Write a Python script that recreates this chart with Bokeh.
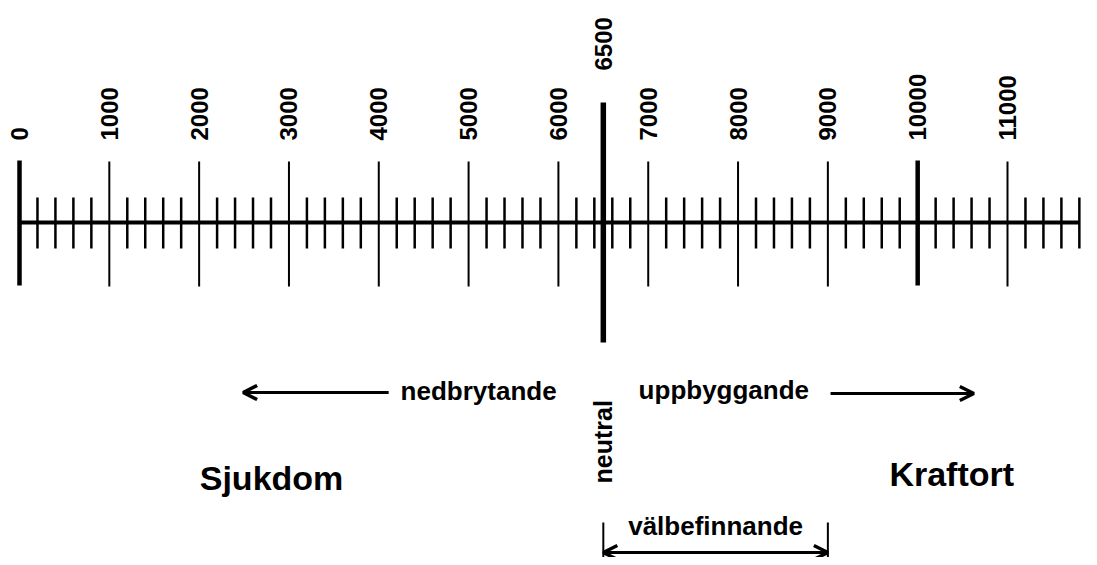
import math
from bokeh.plotting import figure
from bokeh.models import Range1d, Arrow, OpenHead, ColumnDataSource
from bokeh.core.properties import value
from bokeh.embed import file_html
from bokeh.resources import INLINE

# ---- data ----
major_ticks = [0, 1000, 2000, 3000, 4000, 5000, 6000, 7000, 8000, 9000, 10000, 11000]
major_labels = ["0", "1000", "2000", "3000", "4000", "5000", "6000", "7000",
                "8000", "9000", "10000", "11000"]
bold_ticks = [0, 10000]
neutral_value = 6500
neutral_label = "6500"
scale_end = 11800
minor_ticks = [v for v in range(200, scale_end + 1, 200) if v % 1000 != 0]
wellbeing_range = [6500, 9000]
left_arrow = [4110, 2490]     # nedbrytande arrow (start, end)
right_arrow = [9030, 10625]   # uppbyggande arrow (start, end)

FONT = value("Liberation Sans")
W, H = 1089, 557
PX_PER_UNIT = 988 / 11000.0
X0 = (0 - 19) / PX_PER_UNIT
X1 = X0 + W / PX_PER_UNIT

p = figure(width=W, height=H, output_backend="svg", toolbar_location=None,
           x_range=Range1d(X0, X1), y_range=Range1d(H, 0),
           min_border=0, outline_line_color=None)
p.axis.visible = False
p.grid.visible = False
p.background_fill_color = "white"

# main axis line
p.segment(x0=[0], y0=[222], x1=[scale_end], y1=[222], line_width=4,
          line_color="black", line_cap="butt")

# minor ticks
p.segment(x0=minor_ticks, y0=[197] * len(minor_ticks), x1=minor_ticks,
          y1=[248] * len(minor_ticks), line_width=2.5, line_color="black")

# major ticks
thin = [v for v in major_ticks if v not in bold_ticks]
p.segment(x0=thin, y0=[161] * len(thin), x1=thin, y1=[286] * len(thin),
          line_width=2, line_color="black")
p.segment(x0=bold_ticks, y0=[160] * len(bold_ticks), x1=bold_ticks,
          y1=[285] * len(bold_ticks), line_width=4.5, line_color="black")

# neutral tick
p.segment(x0=[neutral_value], y0=[102], x1=[neutral_value], y1=[342],
          line_width=5.5, line_color="black")

# tick labels
src = ColumnDataSource(dict(x=major_ticks, y=[140] * len(major_ticks), t=major_labels))
p.text(x="x", y="y", text="t", source=src, angle=math.pi / 2,
       text_align="left", text_baseline="middle", text_font=FONT,
       text_font_style="bold", text_font_size="24px", text_color="black")
p.text(x=[neutral_value], y=[70], text=[neutral_label], angle=math.pi / 2,
       text_align="left", text_baseline="middle", text_font=FONT,
       text_font_style="bold", text_font_size="24px", text_color="black")

# arrows
p.add_layout(Arrow(x_start=left_arrow[0], y_start=392, x_end=left_arrow[1], y_end=392,
                   line_width=3, line_color="black",
                   end=OpenHead(size=14, line_width=3.5, line_color="black")))
p.add_layout(Arrow(x_start=right_arrow[0], y_start=393, x_end=right_arrow[1], y_end=393,
                   line_width=3, line_color="black",
                   end=OpenHead(size=14, line_width=3.5, line_color="black")))

# well-being range
p.segment(x0=wellbeing_range, y0=[522, 522], x1=wellbeing_range, y1=[580, 580],
          line_width=2, line_color="black")
p.add_layout(Arrow(x_start=wellbeing_range[0], y_start=552,
                   x_end=wellbeing_range[1], y_end=552,
                   line_width=3, line_color="black",
                   start=OpenHead(size=14, line_width=3.5, line_color="black"),
                   end=OpenHead(size=14, line_width=3.5, line_color="black")))

# texts
def txt(x, y, s, size, align="left", baseline="alphabetic", angle=0.0):
    p.text(x=[x], y=[y], text=[s], angle=angle, text_align=align,
           text_baseline=baseline, text_font=FONT, text_font_style="bold",
           text_font_size=size, text_color="black")

txt(4243, 390, "nedbrytande", "26px")
txt(6893, 389, "uppbyggande", "26px")
txt(neutral_value, 483, "neutral", "25px", baseline="middle", angle=math.pi / 2)
txt(2806, 477, "Sjukdom", "34px", align="center")
txt(10379, 473, "Kraftort", "34px", align="center")
txt(sum(wellbeing_range) / 2, 525, "välbefinnande", "26px", align="center")

open("out.html", "w").write(file_html(p, INLINE))
